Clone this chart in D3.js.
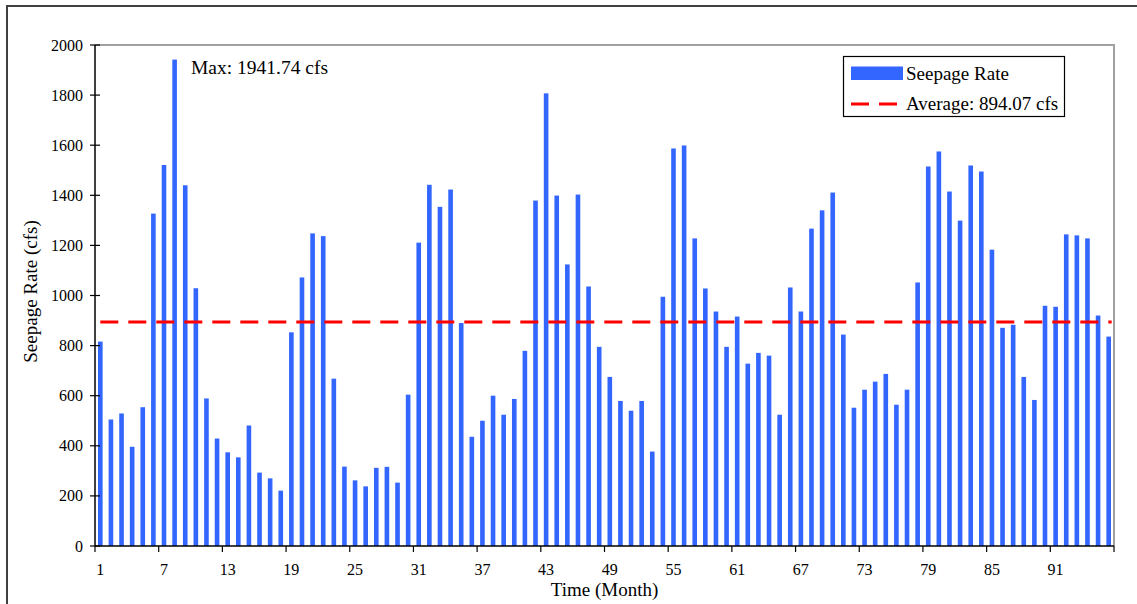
<!DOCTYPE html>
<html>
<head>
<meta charset="utf-8">
<script src="https://cdn.jsdelivr.net/npm/d3@7/dist/d3.min.js"></script>
<style>
  html, body { margin: 0; padding: 0; background: #fff; }
  svg { display: block; font-family: "Liberation Serif", "Times New Roman", serif; }
</style>
</head>
<body>
<svg id="chart" width="1137" height="604"></svg>
<script>
// Monthly seepage rate (cfs), months 1..96
const months = d3.range(1, 97);
const seepage = [
  816, 505, 529, 396, 554, 1327, 1521, 1941.74, 1440, 1029,
  589, 429, 374, 354, 481, 293, 270, 221, 853, 1072,
  1248, 1237, 668, 317, 262, 238, 312, 316, 253, 604,
  1211, 1442, 1354, 1423, 890, 436, 500, 600, 524, 587,
  779, 1379, 1807, 1399, 1124, 1403, 1036, 795, 675, 579,
  540, 579, 377, 995, 1587, 1599, 1228, 1028, 936, 795,
  916, 728, 771, 760, 524, 1032, 936, 1267, 1340, 1411,
  844, 552, 624, 656, 687, 564, 624, 1052, 1515, 1575,
  1415, 1299, 1519, 1495, 1183, 871, 883, 675, 583, 959,
  955, 1244, 1240, 1228, 920, 836
];
const averageValue = 894.07;
const maxValue = 1941.74;
const xTickLabels = [1, 7, 13, 19, 25, 31, 37, 43, 49, 55, 61, 67, 73, 79, 85, 91];
const xTickMarks = [0, 6, 12, 18, 24, 30, 36, 42, 48, 54, 60, 66, 72, 78, 84, 90, 96];
const yTicks = [0, 200, 400, 600, 800, 1000, 1200, 1400, 1600, 1800, 2000];

const svg = d3.select("#chart");
const plotLeft = 95, plotRight = 1114, plotTop = 45, plotBottom = 546;

// outer chart frame
svg.append("path")
  .attr("d", "M7,604 L7,6 L1137,6")
  .attr("fill", "none").attr("stroke", "#404040").attr("stroke-width", 2);

const slot = d3.scaleBand().domain(months).range([plotLeft, plotRight]).padding(0);
const barFrac = 0.435;
const y = d3.scaleLinear().domain([0, 2000]).range([plotBottom, plotTop]);

// plot area border (top and right)
svg.append("path")
  .attr("d", `M${plotLeft},${plotTop} L${plotRight},${plotTop} L${plotRight},${plotBottom}`)
  .attr("fill", "none").attr("stroke", "#a0a0a0").attr("stroke-width", 2);

// bars
svg.append("g").selectAll("rect")
  .data(months)
  .join("rect")
  .attr("x", (m) => slot(m) + slot.bandwidth() * (1 - barFrac) / 2)
  .attr("width", slot.bandwidth() * barFrac)
  .attr("y", (m, i) => y(seepage[i]))
  .attr("height", (m, i) => y(0) - y(seepage[i]))
  .attr("fill", "#3366FF");

// average line
svg.append("line")
  .attr("x1", slot(1) + slot.bandwidth() / 2)
  .attr("x2", slot(96) + slot.bandwidth() / 2 + 3)
  .attr("y1", y(averageValue)).attr("y2", y(averageValue))
  .attr("stroke", "#FF0000").attr("stroke-width", 3)
  .attr("stroke-dasharray", "18,10");

// y axis
const yAxis = svg.append("g");
yAxis.append("line")
  .attr("x1", plotLeft).attr("x2", plotLeft).attr("y1", plotTop).attr("y2", plotBottom)
  .attr("stroke", "#000").attr("stroke-width", 1.5);
yAxis.selectAll("line.tick").data(yTicks).join("line")
  .attr("class", "tick")
  .attr("x1", plotLeft - 5).attr("x2", plotLeft + 5)
  .attr("y1", (d) => y(d)).attr("y2", (d) => y(d))
  .attr("stroke", "#000").attr("stroke-width", 1.2);
yAxis.selectAll("text").data(yTicks).join("text")
  .attr("x", plotLeft - 12).attr("y", (d) => y(d) + 5.5)
  .attr("text-anchor", "end").attr("font-size", 16)
  .text((d) => d);

// x axis
const xAxis = svg.append("g");
xAxis.append("line")
  .attr("x1", plotLeft).attr("x2", plotRight).attr("y1", plotBottom).attr("y2", plotBottom)
  .attr("stroke", "#000").attr("stroke-width", 1.5);
xAxis.selectAll("line.tick").data(xTickMarks).join("line")
  .attr("class", "tick")
  .attr("x1", (i) => i < months.length ? slot(months[i]) : plotRight)
  .attr("x2", (i) => i < months.length ? slot(months[i]) : plotRight)
  .attr("y1", plotBottom).attr("y2", plotBottom + 6)
  .attr("stroke", "#000").attr("stroke-width", 1.2);
xAxis.selectAll("text").data(xTickLabels).join("text")
  .attr("x", (m) => slot(m) + slot.bandwidth() / 2)
  .attr("y", 575)
  .attr("text-anchor", "middle").attr("font-size", 16)
  .text((d) => d);

// axis titles
svg.append("text")
  .attr("x", (plotLeft + plotRight) / 2).attr("y", 596)
  .attr("text-anchor", "middle").attr("font-size", 19)
  .text("Time (Month)");
svg.append("text")
  .attr("transform", `translate(37,${(plotTop + plotBottom) / 2 - 4}) rotate(-90)`)
  .attr("text-anchor", "middle").attr("font-size", 19)
  .text("Seepage Rate (cfs)");

// max annotation
svg.append("text")
  .attr("x", 191).attr("y", 74)
  .attr("font-size", 19.5)
  .text(`Max: ${maxValue} cfs`);

// legend
const lg = svg.append("g");
lg.append("rect")
  .attr("x", 843.5).attr("y", 56.5).attr("width", 221).attr("height", 60)
  .attr("fill", "#fff").attr("stroke", "#000").attr("stroke-width", 1.2);
lg.append("rect")
  .attr("x", 851).attr("y", 66.5).attr("width", 52).attr("height", 13.5)
  .attr("fill", "#3366FF");
lg.append("line")
  .attr("x1", 851).attr("x2", 903).attr("y1", 104).attr("y2", 104)
  .attr("stroke", "#FF0000").attr("stroke-width", 3)
  .attr("stroke-dasharray", "18,10");
lg.append("text").attr("x", 906).attr("y", 80).attr("font-size", 19).text("Seepage Rate");
lg.append("text").attr("x", 906).attr("y", 110).attr("font-size", 19).text(`Average: ${averageValue} cfs`);
</script>
</body>
</html>
